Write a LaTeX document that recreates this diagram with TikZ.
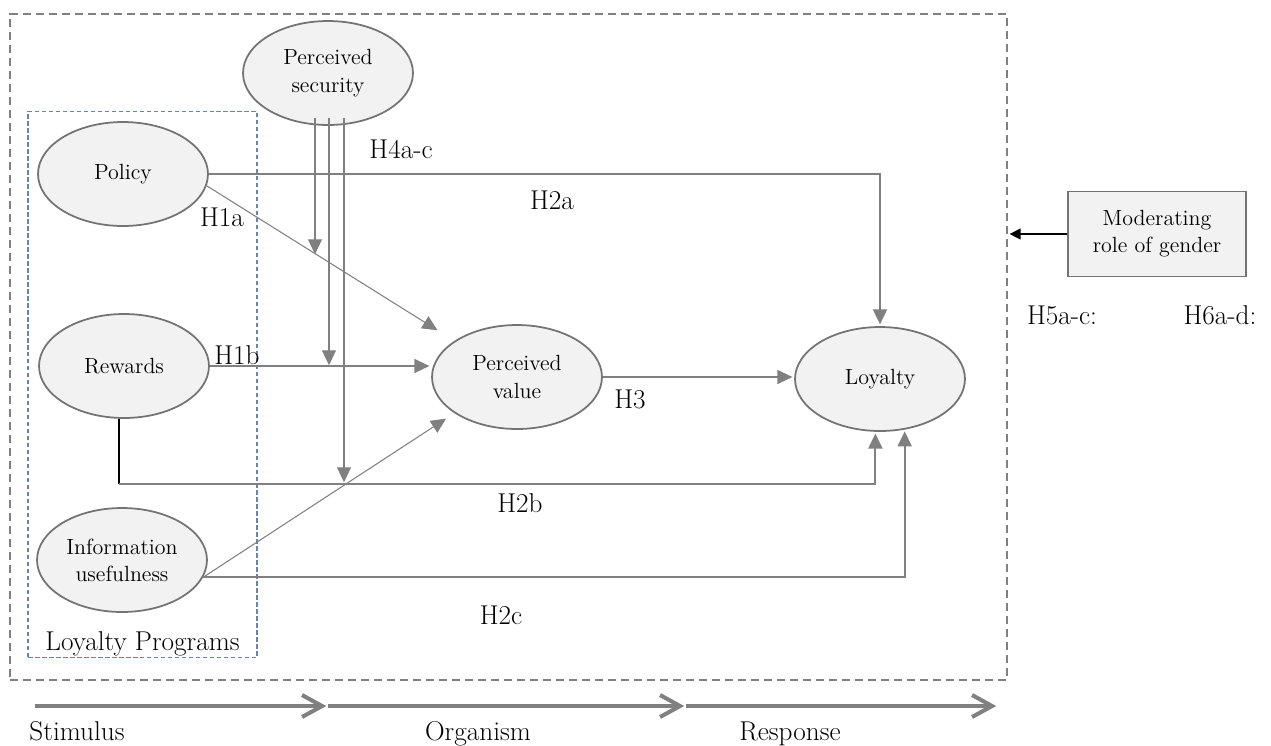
\documentclass[tikz,border=0pt]{standalone}
\usetikzlibrary{shapes.geometric, arrows.meta, positioning}

\begin{document}
\begin{tikzpicture}[x = 0.02cm, y = -0.02cm, shorten >= 1pt,
    construct/.style = {ellipse, draw = gray!90!black, line width = 1pt, fill = gray!10,
      minimum width = 3.4cm, minimum height = 2.08cm, inner sep = 0pt, align = center,
      font = \fontsize{12.5}{15.5}\selectfont},
    hyp/.style = {font = \fontsize{15.5}{18}\selectfont, inner sep = 0pt},
    link/.style = {draw = gray, line width = 0.6pt},
    tip/.style = {-{Triangle[length = 0.3cm, width = 0.28cm]}},
    flow/.style = {draw = gray, line width = 2.3pt,
      -{Straight Barb[length = 0.4cm, width = 0.44cm, line width = 2.3pt]}}]
  \useasboundingbox (0,0) rectangle (1271,745);

  \node[draw = gray, line width = 1.1pt, dash pattern = on 0.16cm off 0.1cm,
    minimum width = 19.94cm, minimum height = 13.32cm] (frame) at (508.5,347) {};
  \node[draw = {rgb,255:red,100;green,135;blue,175}, line width = 0.6pt,
    dash pattern = on 0.09cm off 0.05cm,
    minimum width = 4.58cm, minimum height = 10.94cm] (lp) at (142.5,384.5) {};
  \node[hyp, above = 1pt of lp.south] {Loyalty Programs};

  \node[construct] (sec) at (328,73) {Perceived\\security};
  \node[construct] (pol) at (123,174) {Policy};
  \node[construct] (rew) at (124,366) {Rewards};
  \node[construct] (inf) at (122,560) {Information\\usefulness};
  \node[construct] (val) at (517,377) {Perceived\\value};
  \node[construct] (loy) at (880,379) {Loyalty};
  \node[draw = gray!90!black, line width = 1pt, fill = gray!10, align = center,
    minimum width = 3.56cm, minimum height = 1.7cm,
    font = \fontsize{12.5}{15.5}\selectfont] (mod) at (1157,234) {Moderating\\role of gender};

  \coordinate (m1) at (315,256);
  \coordinate (m2) at (329,367);
  \coordinate (m3) at (344,484);

  \draw[link, line width = 1.1pt, tip] (pol.east) -| (loy.north);
  \draw[link, tip, shorten >= 0.4cm] (pol.-8) -- (val.150);
  \draw[link, line width = 0.9pt, tip] (rew.east) -- (rew.east -| val.west);
  \draw[link, black, line width = 1.2pt, shorten >= 0pt] (rew.265) -- (rew.265 |- m3);
  \draw[link, line width = 1.1pt, tip] (rew.265 |- m3) -| (loy.265);
  \draw[link, tip, shorten >= 0.2cm] (inf.-12) -- (val.210);
  \draw[link, line width = 1.1pt, tip] (inf.-12) -| (loy.296);
  \draw[link, line width = 0.8pt, tip] (val.east) -- (val.east -| loy.west);
  \foreach \m in {m1, m2, m3}
    \draw[link, tip, shorten <= -0.16cm] (sec.south -| \m) -- (\m);
  \draw[black, line width = 0.8pt, -{Triangle[length = 0.22cm, width = 0.22cm]}]
    (mod.west) -- (mod.west -| frame.east);

  \node[hyp] at (401,149) {H4a-c};
  \node[hyp] at (222,217) {H1a};
  \node[hyp] at (552,200) {H2a};
  \node[hyp] at (237,355) {H1b};
  \node[hyp] at (630,399) {H3};
  \node[hyp] at (520,503) {H2b};
  \node[hyp] at (501,615) {H2c};
  \node[hyp] at (1062,315) {H5a-c:};
  \node[hyp] at (1220,315) {H6a-d:};

  \coordinate (s0) at (35,706);
  \coordinate (s1) at (328,706);
  \coordinate (s2) at (686,706);
  \coordinate (s3) at (998,706);
  \foreach \a/\b in {s0/s1, s1/s2, s2/s3}
    \draw[flow] (\a) -- (\b);
  \node[hyp, anchor = base] at (77,740) {Stimulus};
  \node[hyp, anchor = base] at (478,740) {Organism};
  \node[hyp, anchor = base] at (790,740) {Response};
\end{tikzpicture}
\end{document}
